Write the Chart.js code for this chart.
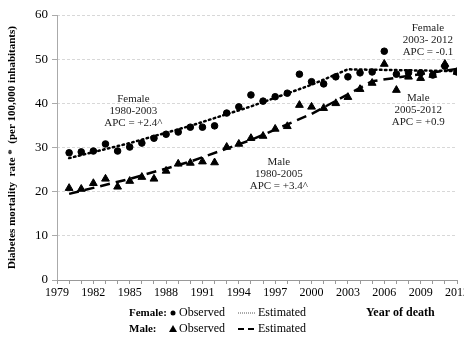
<!DOCTYPE html>
<html>
<head>
<meta charset="utf-8">
<script src="https://cdn.jsdelivr.net/npm/chart.js@4"></script>
<style>
  html, body { margin: 0; padding: 0; background: #fff; overflow: hidden; }
  #wrap { width: 464px; height: 337px; }
</style>
</head>
<body>
<div id="wrap"><canvas id="mortalityChart"></canvas></div>
<script>
// Years of observation
const years = [1980, 1981, 1982, 1983, 1984, 1985, 1986, 1987, 1988, 1989, 1990,
    1991, 1992, 1993, 1994, 1995, 1996, 1997, 1998, 1999, 2000, 2001,
    2002, 2003, 2004, 2005, 2006, 2007, 2008, 2009, 2010, 2011, 2012];

// Observed rates (per 100,000)
const femaleObserved = [28.8, 29.0, 29.2, 30.8, 29.2, 30.1, 31.0, 32.1, 33.0, 33.5, 34.6,
    34.6, 34.9, 37.8, 39.2, 41.9, 40.5, 41.5, 42.3, 46.6, 44.9, 44.4,
    46.0, 46.0, 46.9, 47.1, 51.8, 46.6, 46.9, 46.9, 46.4, 48.4, 47.1];
const maleObserved = [20.8, 20.6, 21.9, 22.9, 21.1, 22.4, 23.3, 22.9, 24.7, 26.3, 26.5,
    26.8, 26.6, 30.1, 30.8, 32.1, 32.6, 34.2, 34.8, 39.6, 39.2, 38.9,
    40.0, 41.4, 43.2, 44.6, 48.9, 43.0, 46.0, 45.7, 46.4, 48.9, 47.1];

// Estimated (joinpoint) lines
const femaleEstYears = [1980, 1985, 1990, 1995, 2000, 2003, 2012];
const femaleEstimated = [27.6, 31.0, 34.9, 39.3, 44.2, 47.7, 47.3];
const maleEstYears = [1980, 1985, 1990, 1995, 2000, 2005, 2012];
const maleEstimated = [19.5, 22.9, 26.8, 31.7, 37.6, 45.0, 47.8];

const yTicks = [0, 10, 20, 30, 40, 50, 60];

// Segment labels: [x, y, lines]
const notes = [
    [1985.3, 41.0, ['Female', '1980-2003', 'APC = +2.4^']],
    [2009.6, 57.0, ['Female', '2003- 2012', 'APC = -0.1']],
    [2008.8, 41.2, ['Male', '2005-2012', 'APC = +0.9']],
    [1997.3, 26.7, ['Male', '1980-2005', 'APC = +3.4^']]
];

const serif = '"Liberation Serif", "Times New Roman", serif';

const toPts = (xs, ys) => xs.map((x, i) => ({ x: x, y: ys[i] }));

const extrasPlugin = {
    id: 'extras',
    beforeDatasetsDraw(chart) {
        // solid y axis line (grid lines are dashed)
        const ctx = chart.ctx, a = chart.chartArea;
        ctx.save();
        ctx.strokeStyle = '#aaa';
        ctx.lineWidth = 1;
        ctx.beginPath();
        ctx.moveTo(a.left + 0.5, a.top);
        ctx.lineTo(a.left + 0.5, a.bottom);
        ctx.stroke();
        ctx.restore();
    },
    afterDraw(chart) {
        const ctx = chart.ctx;
        const xs = chart.scales.x, ys = chart.scales.y;
        ctx.save();
        ctx.fillStyle = '#222';
        ctx.textAlign = 'center';
        ctx.textBaseline = 'middle';
        ctx.font = '11px ' + serif;
        notes.forEach(n => {
            const px = xs.getPixelForValue(n[0]);
            const py = ys.getPixelForValue(n[1]);
            n[2].forEach((t, i) => ctx.fillText(t, px, py + i * 12));
        });

        // legend below the axis
        const y1 = 313, y2 = 329;
        ctx.textAlign = 'left';
        ctx.font = 'bold 11px ' + serif;
        ctx.fillStyle = '#000';
        ctx.fillText('Female:', 129, y1);
        ctx.fillText('Male:', 129, y2);
        ctx.font = 'bold 12px ' + serif;
        ctx.fillText('Year of death', 366, y1);
        ctx.font = '12px ' + serif;
        ctx.fillText('Observed', 179, y1);
        ctx.fillText('Observed', 179, y2);
        ctx.fillText('Estimated', 258, y1);
        ctx.fillText('Estimated', 258, y2);
        // markers
        ctx.beginPath();
        ctx.arc(173, y1, 2.5, 0, Math.PI * 2);
        ctx.fill();
        ctx.beginPath();
        ctx.moveTo(173, y2 - 4);
        ctx.lineTo(177, y2 + 3);
        ctx.lineTo(169, y2 + 3);
        ctx.closePath();
        ctx.fill();
        // line samples
        ctx.strokeStyle = '#555';
        ctx.lineWidth = 1;
        ctx.setLineDash([1, 1]);
        ctx.beginPath();
        ctx.moveTo(238, y1);
        ctx.lineTo(256, y1);
        ctx.stroke();
        ctx.strokeStyle = '#000';
        ctx.lineWidth = 2;
        ctx.setLineDash([6, 4]);
        ctx.beginPath();
        ctx.moveTo(238, y2);
        ctx.lineTo(256, y2);
        ctx.stroke();
        ctx.restore();
    }
};

const mortalityChart = new Chart(document.getElementById('mortalityChart'), {
    type: 'scatter',
    data: {
        datasets: [
            {
                label: 'Female observed',
                data: toPts(years, femaleObserved),
                pointStyle: 'circle',
                pointRadius: 3.3,
                backgroundColor: '#000',
                borderColor: '#000',
                order: 1
            },
            {
                label: 'Male observed',
                data: toPts(years, maleObserved),
                pointStyle: 'triangle',
                pointRadius: 4.5,
                backgroundColor: '#000',
                borderColor: '#000',
                order: 1
            },
            {
                label: 'Female estimated',
                data: toPts(femaleEstYears, femaleEstimated),
                showLine: true,
                pointRadius: 0,
                borderColor: '#000',
                borderWidth: 2.5,
                borderDash: [1.5, 3.5],
                borderCapStyle: 'round',
                order: 2
            },
            {
                label: 'Male estimated',
                data: toPts(maleEstYears, maleEstimated),
                showLine: true,
                pointRadius: 0,
                borderColor: '#000',
                borderWidth: 2.5,
                borderDash: [10, 6],
                order: 2
            }
        ]
    },
    options: {
        responsive: true,
        maintainAspectRatio: false,
        animation: false,
        layout: { padding: { top: 15, right: 7, left: 0, bottom: 0 } },
        plugins: {
            legend: { display: false },
            tooltip: { enabled: false }
        },
        scales: {
            x: {
                type: 'linear',
                min: 1979,
                max: 2012,
                afterFit(scale) {
                    scale.height = 57;
                    scale.paddingRight = 0;
                },
                ticks: {
                    stepSize: 1,
                    autoSkip: false,
                    maxRotation: 0,
                    padding: 2,
                    color: '#000',
                    font: { family: serif, size: 12 },
                    callback: v => ((v - 1979) % 3 === 0 ? String(v) : '')
                },
                grid: {
                    drawOnChartArea: false,
                    drawTicks: true,
                    tickLength: 4,
                    color: '#999'
                },
                border: { color: '#999' }
            },
            y: {
                min: 0,
                max: 60,
                afterFit(scale) {
                    scale.width = 57;
                    scale.paddingTop = 0;
                },
                afterBuildTicks(scale) {
                    scale.ticks = yTicks.map(v => ({ value: v }));
                },
                title: {
                    display: true,
                    text: 'Diabetes mortality  rate *  (per 100,000 inhabitants)',
                    color: '#000',
                    font: { family: serif, size: 11, weight: 'bold' },
                    padding: { top: 6, bottom: 0 }
                },
                ticks: {
                    color: '#000',
                    padding: 4,
                    font: { family: serif, size: 13 }
                },
                grid: {
                    color: '#d8d8d8',
                    tickColor: '#aaa',
                    tickLength: 5,
                    drawTicks: true
                },
                border: { display: false, dash: [3, 2] }
            }
        }
    },
    plugins: [extrasPlugin]
});
</script>
</body>
</html>
